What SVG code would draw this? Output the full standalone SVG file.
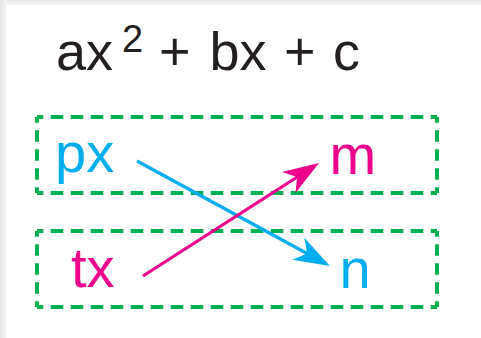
<svg xmlns="http://www.w3.org/2000/svg" width="481" height="338" viewBox="0 0 481 338">
<style>
.t{font-family:"Liberation Sans",Arial,sans-serif;font-size:54px;fill:#231F20}
.lbl{font-family:"Liberation Sans",Arial,sans-serif;font-size:56px}
.blue{fill:#00AEEF}
.pink{fill:#EC008C}
.h{stroke:#00B050;stroke-width:4;fill:none;stroke-dasharray:12.5 7.5;stroke-dashoffset:6.25}
.v{stroke:#00B050;stroke-width:4;fill:none;stroke-dasharray:11.5 7.5;stroke-dashoffset:5.75}
</style>
<defs>
<linearGradient id="gt" x1="0" y1="0" x2="0" y2="1"><stop offset="0" stop-color="#E6E6E6"/><stop offset="1" stop-color="#F7F7F7"/></linearGradient>
<linearGradient id="gl" x1="0" y1="0" x2="1" y2="0"><stop offset="0" stop-color="#E6E6E6"/><stop offset="1" stop-color="#F7F7F7"/></linearGradient>
<marker id="ab" markerUnits="userSpaceOnUse" orient="auto" refX="12" refY="0" markerWidth="40" markerHeight="30" overflow="visible"><path d="M36,0 L0,-12.5 L10,0 L0,12.5 Z" fill="#00AEEF"/></marker>
<marker id="ap" markerUnits="userSpaceOnUse" orient="auto" refX="12" refY="0" markerWidth="40" markerHeight="30" overflow="visible"><path d="M36,0 L0,-12.5 L10,0 L0,12.5 Z" fill="#EC008C"/></marker>
</defs>
<rect width="481" height="338" fill="#FFFFFF"/>
<rect width="481" height="5" fill="url(#gt)"/>
<rect width="7" height="338" fill="url(#gl)"/>
<g id="title">
<text class="t" y="70"><tspan x="56">ax</tspan></text>
<text class="t" x="122" y="52" style="font-size:38px">2</text>
<text class="t" y="70"><tspan x="159">+</tspan><tspan x="209.5">bx</tspan><tspan x="284">+</tspan><tspan x="333">c</tspan></text>
</g>
<g id="box-top">
<line class="h" x1="37" y1="117" x2="437" y2="117"/>
<line class="h" x1="37" y1="193" x2="437" y2="193"/>
<line class="v" x1="37" y1="117" x2="37" y2="193"/>
<line class="v" x1="437" y1="117" x2="437" y2="193"/>
</g>
<g id="box-bottom">
<line class="h" x1="37" y1="231" x2="437" y2="231"/>
<line class="h" x1="37" y1="307" x2="437" y2="307"/>
<line class="v" x1="37" y1="231" x2="37" y2="307"/>
<line class="v" x1="437" y1="231" x2="437" y2="307"/>
</g>
<g id="node-px"><text class="lbl blue" x="55" y="172">px</text></g>
<g id="node-m"><text class="lbl pink" x="329.5" y="174">m</text></g>
<g id="node-tx"><text class="lbl pink" x="71" y="287">tx</text></g>
<g id="node-n"><text class="lbl blue" x="339.5" y="288">n</text></g>
<g id="connectors">
<line x1="137" y1="161" x2="308.9" y2="254.5" stroke="#00AEEF" stroke-width="3.2" marker-end="url(#ab)"/>
<line x1="143" y1="276" x2="298.8" y2="176" stroke="#EC008C" stroke-width="3.2" marker-end="url(#ap)"/>
</g>
</svg>
